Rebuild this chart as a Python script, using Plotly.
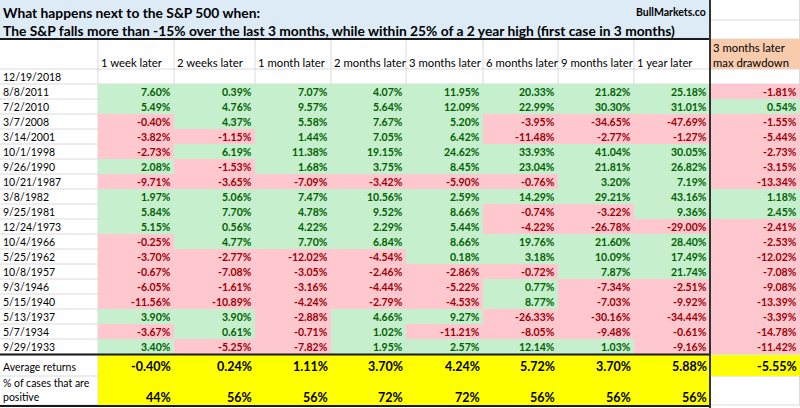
import plotly.graph_objects as go

title_1 = "What happens next to the S&P 500 when:"
title_2 = ("The S&P falls more than -15% over the last 3 months, "
           "while within 25% of a 2 year high (first case in 3 months)")
source = "BullMarkets.co"

columns = ["1 week later", "2 weeks later", "1 month later", "2 months later",
           "3 months later", "6 months later", "9 months later", "1 year later"]
drawdown_header = ["3 months later", "max drawdown"]
latest = "12/19/2018"

dates = ["8/8/2011", "7/2/2010", "3/7/2008", "3/14/2001", "10/1/1998", "9/26/1990",
         "10/21/1987", "3/8/1982", "9/25/1981", "12/24/1973", "10/4/1966", "5/25/1962",
         "10/8/1957", "9/3/1946", "5/15/1940", "5/13/1937", "5/7/1934", "9/29/1933"]

week_1 = [7.60, 5.49, -0.40, -3.82, -2.73, 2.08, -9.71, 1.97, 5.84, 5.15, -0.25, -3.70,
          -0.67, -6.05, -11.56, 3.90, -3.67, 3.40]
week_2 = [0.39, 4.76, 4.37, -1.15, 6.19, -1.53, -3.65, 5.06, 7.70, 0.56, 4.77, -2.77,
          -7.08, -1.61, -10.89, 3.90, 0.61, -5.25]
month_1 = [7.07, 9.57, 5.58, 1.44, 11.38, 1.68, -7.09, 7.47, 4.78, 4.22, 7.70, -12.02,
           -3.05, -3.16, -4.24, -2.88, -0.71, -7.82]
month_2 = [4.07, 5.64, 7.67, 7.05, 19.15, 3.75, -3.42, 10.56, 9.52, 2.29, 6.84, -4.54,
           -2.46, -4.44, -2.79, 4.66, 1.02, 1.95]
month_3 = [11.95, 12.09, 5.20, 6.42, 24.62, 8.45, -5.90, 2.59, 8.66, 5.44, 8.66, 0.18,
           -2.86, -5.22, -4.53, 9.27, -11.21, 2.57]
month_6 = [20.33, 22.99, -3.95, -11.48, 33.93, 23.04, -0.76, 14.29, -0.74, -4.22, 19.76,
           3.18, -0.72, 0.77, 8.77, -26.33, -8.05, 12.14]
month_9 = [21.82, 30.30, -34.65, -2.77, 41.04, 21.81, 3.20, 29.21, -3.22, -26.78, 21.60,
           10.09, 7.87, -7.34, -7.03, -30.16, -9.48, 1.03]
year_1 = [25.18, 31.01, -47.69, -1.27, 30.05, 26.82, 7.19, 43.16, 9.36, -29.00, 28.40,
          17.49, 21.74, -2.51, -9.92, -34.44, -0.61, -9.16]
drawdown = [-1.81, 0.54, -1.55, -5.44, -2.73, -3.15, -13.34, 1.18, 2.45, -2.41, -2.53,
            -12.02, -7.08, -9.08, -13.39, -3.39, -14.78, -11.42]

avg_returns = [-0.40, 0.24, 1.11, 3.70, 4.24, 5.72, 3.70, 5.88, -5.55]
pct_positive = [44, 56, 56, 72, 72, 56, 56, 56]

series = [week_1, week_2, month_1, month_2, month_3, month_6, month_9, year_1, drawdown]

# sheet geometry (pixels)
col_edges = [0, 98, 174, 255, 331, 406, 483, 558, 634, 710, 800]
row_h = 15
data_top = 84
summary_top = data_top + row_h * len(dates) + 1
summary_mid = summary_top + 21
summary_bot = summary_mid + 29

FONT = "Lato"
GRID = "#DADADA"
GREEN_BG, GREEN_FG = "#C6EFCE", "#006100"
RED_BG, RED_FG = "#FFC7CE", "#9C0006"
YELLOW = "#FFFF00"
BLUE = "#DDEBF7"
ORANGE = "#F8CBAD"

shapes = []
annotations = []


def rect(x0, y0, x1, y1, fill):
    shapes.append(dict(type="rect", xref="x", yref="y", x0=x0, y0=y0, x1=x1, y1=y1,
                       fillcolor=fill, line=dict(width=0), layer="below"))


def line(x0, y0, x1, y1, color=GRID, width=1):
    shapes.append(dict(type="line", xref="x", yref="y", x0=x0, y0=y0, x1=x1, y1=y1,
                       line=dict(color=color, width=width), layer="below"))


def text(x, y, s, anchor="left", size=10.5, color="black", bold=False):
    annotations.append(dict(x=x, y=y, xref="x", yref="y", showarrow=False,
                            text=f"<b>{s}</b>" if bold else s,
                            xanchor=anchor, yanchor="middle", borderpad=0,
                            font=dict(family=FONT, size=size, color=color)))


# light gridlines
row_edges = [20, 39, 69, data_top] + [data_top + row_h * (i + 1) for i in range(len(dates))] \
    + [summary_top, summary_mid, summary_bot]
for y in row_edges:
    line(0, y, 800, y)
for x in col_edges[1:]:
    line(x, 39, x, summary_bot)
line(799.5, 0, 799.5, summary_bot)

# title block
rect(0, 0, 710, 39, BLUE)
text(2, 12, title_1, size=13.8, bold=True)
text(2, 30.5, title_2, size=13.8, bold=True)
text(707, 12, source, anchor="right", size=10.5, bold=True)

# header row
for c, name in enumerate(columns):
    text(col_edges[c + 1] + 2, 62, name, size=11.3)
rect(710, 39, 800, 69, ORANGE)
text(712, 47.5, drawdown_header[0], size=11.3)
text(712, 62, drawdown_header[1], size=11.3)

text(2, 77, latest)

# data cells
for r, d in enumerate(dates):
    yc = data_top + row_h * r
    text(2, yc + 7.5, d)
    for c, s in enumerate(series):
        v = s[r]
        x0, x1 = col_edges[c + 1], col_edges[c + 2]
        rect(x0, yc, x1, yc + row_h, GREEN_BG if v >= 0 else RED_BG)
        text(x1 - 2, yc + 7.5, f"{v:.2f}%", anchor="right", size=10.5,
             color=GREEN_FG if v >= 0 else RED_FG, bold=True)

# summary rows
rect(98, summary_top, 710, summary_bot, YELLOW)
rect(710, summary_top, 800, summary_mid, YELLOW)
text(2, (summary_top + summary_mid) / 2 + 1, "Average returns")
text(2, summary_mid + 7, "% of cases that are")
text(2, summary_mid + 21, "positive")
for c, v in enumerate(avg_returns):
    text(col_edges[c + 2] - 2, (summary_top + summary_mid) / 2 + 1, f"{v:.2f}%",
         anchor="right", size=12.5, bold=True)
for c, v in enumerate(pct_positive):
    text(col_edges[c + 2] - 2, summary_mid + 21, f"{v}%", anchor="right", size=12.5, bold=True)

# dark borders
line(0, 39, 710, 39, "#1A1A1A", 2)
line(0, summary_top - 0.5, 710, summary_top - 0.5, "#1A1A1A", 2)
line(0, summary_bot + 1, 710, summary_bot + 1, "#1A1A1A", 2)
line(710, 0, 710, 408, "#333333", 2)

fig = go.Figure()
fig.update_layout(
    width=800, height=408,
    margin=dict(l=0, r=0, t=0, b=0),
    paper_bgcolor="white", plot_bgcolor="white",
    shapes=shapes, annotations=annotations,
    xaxis=dict(range=[0, 800], visible=False, fixedrange=True),
    yaxis=dict(range=[408, 0], visible=False, fixedrange=True),
    showlegend=False,
)
fig.write_html("out.html", config={"displayModeBar": False},
               post_script="document.body.style.margin='0';"
                           "document.body.style.overflow='hidden';")
